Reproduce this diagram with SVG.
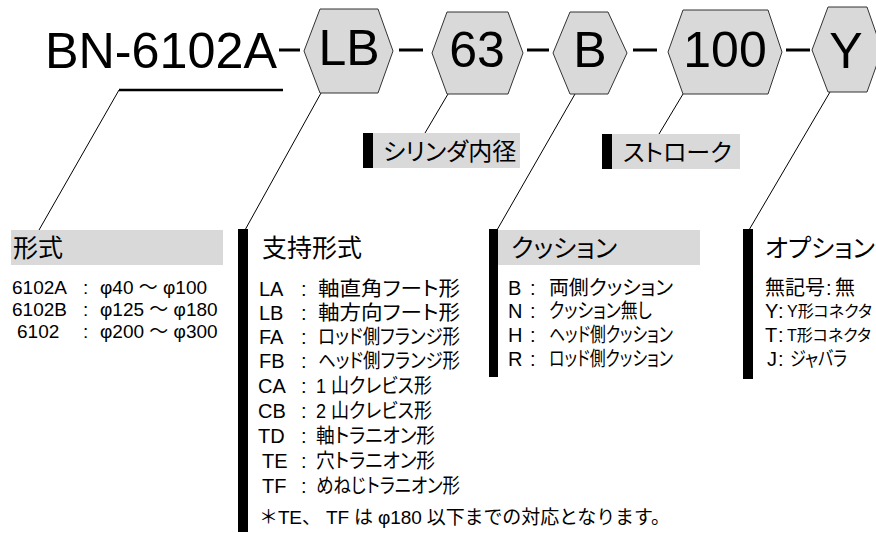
<svg xmlns="http://www.w3.org/2000/svg" width="876" height="533" viewBox="0 0 876 533">
<style>
.hex{fill:#d9d9d9;stroke:#333;stroke-width:1}
.big{font-family:"Liberation Sans","Noto Sans CJK JP",sans-serif;font-size:50px;fill:#000}
.ln{stroke:#000;stroke-width:1;fill:none}
.dash{stroke:#000;stroke-width:3}
.hdr{font-family:"Noto Sans CJK JP",sans-serif;font-size:25px;fill:#000;font-feature-settings:"palt"}
.sub{font-family:"Noto Sans CJK JP",sans-serif;font-size:24px;fill:#000;font-feature-settings:"palt"}
.t{font-family:"Liberation Sans","Noto Sans CJK JP",sans-serif;font-size:20px;fill:#000;font-feature-settings:"palt"}
.n{font-family:"Liberation Sans","Noto Sans CJK JP",sans-serif;font-size:19px;fill:#000}
.sm{font-size:16px}
.box{fill:#d9d9d9}
.bar{fill:#000}
</style>
<g id="title">
<text class="big" x="45" y="68" textLength="232" lengthAdjust="spacingAndGlyphs">BN-6102A</text>
</g>
<g id="connectors">
<line class="dash" x1="279" y1="50" x2="300" y2="50"/>
<line class="dash" x1="399" y1="50" x2="423" y2="50"/>
<line class="dash" x1="527" y1="50" x2="549" y2="50"/>
<line class="dash" x1="633" y1="50" x2="657" y2="50"/>
<line class="dash" x1="786" y1="50" x2="810" y2="50"/>
<line x1="119" y1="90" x2="283" y2="90" stroke="#000" stroke-width="2.5"/>
<line class="ln" x1="119" y1="90" x2="39" y2="230"/>
<line class="ln" x1="321" y1="93" x2="245" y2="230"/>
<line class="ln" x1="448" y1="94" x2="425" y2="133"/>
<line class="ln" x1="575" y1="94" x2="497" y2="230"/>
<line class="ln" x1="683" y1="94" x2="659" y2="134"/>
<line class="ln" x1="830" y1="92" x2="749" y2="230"/>
</g>
<g id="hex-LB">
<polygon class="hex" points="304,51 320,9 378,9 393,51 378,93 320,93"/>
<text class="big" x="349" y="65" text-anchor="middle">LB</text>
</g>
<g id="hex-63">
<polygon class="hex" points="432,53 447,12 508,12 523,53 508,94 447,94"/>
<text class="big" x="477" y="67" text-anchor="middle">63</text>
</g>
<g id="hex-B">
<polygon class="hex" points="553,53 570,12 608,12 627,53 608,94 570,94"/>
<text class="big" x="590" y="67" text-anchor="middle">B</text>
</g>
<g id="hex-100">
<polygon class="hex" points="668,52 683,10 768,10 782,52 768,94 683,94"/>
<text class="big" x="725" y="67" text-anchor="middle">100</text>
</g>
<g id="hex-Y">
<polygon class="hex" points="812,50 828,7 867,7 882,50 867,92 828,92"/>
<text class="big" x="846" y="68" text-anchor="middle">Y</text>
</g>
<g id="label-bore">
<rect class="bar" x="363" y="133" width="10" height="35"/>
<rect class="box" x="373" y="133" width="147" height="35"/>
<text class="sub" x="383" y="160">シリンダ内径</text>
</g>
<g id="label-stroke">
<rect class="bar" x="602" y="134" width="10" height="35"/>
<rect class="box" x="612" y="134" width="128" height="35"/>
<text class="sub" x="623" y="161">ストローク</text>
</g>
<g id="sec-model">
<rect class="box" x="11" y="230" width="212" height="35"/>
<text class="hdr" x="13" y="257">形式</text>
<g class="n">
<text x="12" y="294">6102A</text><text x="83" y="294">:</text><text x="100" y="294">φ40 ～ φ100</text>
<text x="12" y="316">6102B</text><text x="83" y="316">:</text><text x="100" y="316">φ125 ～ φ180</text>
<text x="17" y="338">6102</text><text x="83" y="338">:</text><text x="100" y="338">φ200 ～ φ300</text>
</g>
</g>
<g id="sec-mount">
<rect class="bar" x="238" y="229" width="10" height="303"/>
<text class="hdr" x="262" y="257">支持形式</text>
<g class="t">
<text x="259" y="296">LA</text><text x="301" y="296">:</text><text x="318" y="296" textLength="142" lengthAdjust="spacingAndGlyphs">軸直角フート形</text>
<text x="259" y="320">LB</text><text x="301" y="320">:</text><text x="318" y="320" textLength="142" lengthAdjust="spacingAndGlyphs">軸方向フート形</text>
<text x="259" y="344">FA</text><text x="301" y="344">:</text><text x="318" y="344" textLength="142" lengthAdjust="spacingAndGlyphs">ロッド側フランジ形</text>
<text x="259" y="368">FB</text><text x="301" y="368">:</text><text x="318" y="368" textLength="142" lengthAdjust="spacingAndGlyphs">ヘッド側フランジ形</text>
<text x="258" y="393">CA</text><text x="301" y="393">:</text><text x="316" y="393" textLength="116" lengthAdjust="spacingAndGlyphs">1 山クレビス形</text>
<text x="258" y="418">CB</text><text x="301" y="418">:</text><text x="316" y="418" textLength="116" lengthAdjust="spacingAndGlyphs">2 山クレビス形</text>
<text x="258" y="443">TD</text><text x="301" y="443">:</text><text x="316" y="443" textLength="119" lengthAdjust="spacingAndGlyphs">軸トラニオン形</text>
<text x="262" y="468">TE</text><text x="301" y="468">:</text><text x="316" y="468" textLength="119" lengthAdjust="spacingAndGlyphs">穴トラニオン形</text>
<text x="262" y="493">TF</text><text x="301" y="493">:</text><text x="316" y="493" textLength="144" lengthAdjust="spacingAndGlyphs">めねじトラニオン形</text>
</g>
<text class="n" x="259" y="524" textLength="411" lengthAdjust="spacing">＊TE、 TF は φ180 以下までの対応となります。</text>
</g>
<g id="sec-cushion">
<rect class="bar" x="489" y="229" width="9" height="148"/>
<rect class="box" x="498" y="230" width="202" height="35"/>
<text class="hdr" x="511" y="257">クッション</text>
<g class="t">
<text x="508" y="295">B</text><text x="530" y="295">:</text><text x="549" y="295" textLength="124" lengthAdjust="spacingAndGlyphs">両側クッション</text>
<text x="508" y="318">N</text><text x="530" y="318">:</text><text x="549" y="318" textLength="103" lengthAdjust="spacingAndGlyphs">クッション無し</text>
<text x="508" y="342">H</text><text x="530" y="342">:</text><text x="549" y="342" textLength="124" lengthAdjust="spacingAndGlyphs">ヘッド側クッション</text>
<text x="508" y="366">R</text><text x="530" y="366">:</text><text x="549" y="366" textLength="124" lengthAdjust="spacingAndGlyphs">ロッド側クッション</text>
</g>
</g>
<g id="sec-option">
<rect class="bar" x="743" y="229" width="10" height="150"/>
<text class="hdr" x="765" y="257">オプション</text>
<g class="t">
<text x="765" y="295">無記号</text><text x="826" y="295">:</text><text x="835" y="295">無</text>
<text x="765" y="318">Y</text><text x="778" y="318">:</text><text class="sm" x="787" y="317">Y形コネクタ</text>
<text x="765" y="342">T</text><text x="778" y="342">:</text><text class="sm" x="787" y="341">T形コネクタ</text>
<text x="767" y="366">J</text><text x="778" y="366">:</text><text x="790" y="366" textLength="57" lengthAdjust="spacingAndGlyphs">ジャバラ</text>
</g>
</g>
</svg>
